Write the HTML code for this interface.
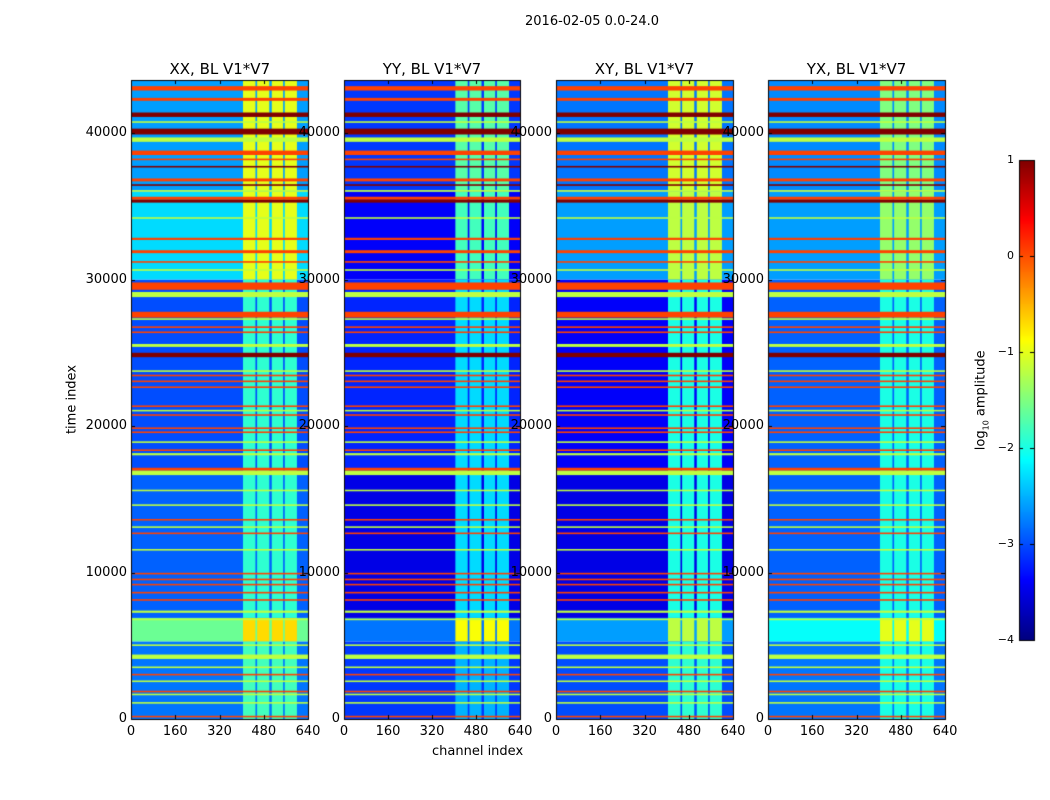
<!DOCTYPE html>
<html><head><meta charset="utf-8"><style>
body{margin:0;background:#fff;width:1050px;height:800px;position:relative;overflow:hidden;font-family:"DejaVu Sans","Liberation Sans",sans-serif;color:#000}
.t{position:absolute;font-size:13px;white-space:nowrap}
canvas{position:absolute}
</style></head><body>
<div class="t" style="left:525px;top:14px">2016-02-05 0.0-24.0</div>
<canvas id="cv" width="1050" height="800" style="left:0;top:0"></canvas>
<div class="t" style="left:22px;top:392px;transform:rotate(-90deg);transform-origin:50% 50%;width:100px;text-align:center">time index</div>
<div class="t" style="left:432px;top:744px">channel index</div>
<div class="t" style="left:932px;top:392px;transform:rotate(-90deg);width:100px;text-align:center">log<sub style="font-size:8px">10</sub> amplitude</div>
<div id="labels"></div>
<script>
const panelTitles=["XX, BL V1*V7","YY, BL V1*V7","XY, BL V1*V7","YX, BL V1*V7"];
const panelX=[131,344,556,768];
const panelW=[177,176,177,177];
const plotTop=80, plotBottom=719, tMax=43620, chMax=640;
const yTicks=[0,10000,20000,30000,40000];
const xTicks=[0,160,320,480,640];
const cbTicks=[1,0,-1,-2,-3,-4];
const cbMin=-4, cbMax=1;
// bright channel bands [start,end]
const channelBands=[[405,450],[456,500],[509,550],[556,600]];
// time segments: [tStart,tEnd,baseLevel,bandLevel] per panel
const xxSegments=[[0,5300,-2.8,-1.8],[5300,6900,-1.6,-0.7],[6900,17000,-2.9,-1.9],[17000,30000,-3.0,-1.9],[30000,36000,-2.3,-1.0],[36000,43620,-2.6,-1.0]];
const yySegments=[[0,5300,-3.1,-2.5],[5300,6900,-2.8,-0.9],[6900,17000,-3.5,-2.3],[17000,30000,-3.2,-2.3],[30000,36000,-3.4,-1.8],[36000,43620,-3.1,-1.7]];
const xySegments=[[0,5300,-3.0,-1.9],[5300,6900,-2.6,-1.2],[6900,17000,-3.5,-2.0],[17000,30000,-3.4,-2.0],[30000,36000,-2.6,-1.2],[36000,43620,-2.8,-1.1]];
const yxSegments=[[0,5300,-2.8,-2.0],[5300,6900,-2.1,-1.0],[6900,17000,-2.9,-2.0],[17000,30000,-2.9,-2.0],[30000,36000,-2.6,-1.4],[36000,43620,-2.7,-1.5]];
const panelSegments=[xxSegments,yySegments,xySegments,yxSegments];
// flagged time ranges: [tStart,tEnd,level]
const flagBands=[[42900,43200,0.05],[42200,42400,0.05],[41100,41400,1],[40700,40800,-1.2],[39900,40300,1],[39400,39700,-1.2],[38500,38800,0.05],[38150,38250,0.05],[37650,37750,1],[36700,36900,0.05],[36400,36500,1],[36000,36100,-1.2],[35450,35650,0.05],[35250,35450,1],[34150,34250,-1.2],[32700,32850,0.05],[31800,32000,0.05],[31150,31250,0.05],[30600,30700,-1.2],[29300,29800,0.05],[28800,29150,-1.2],[27400,27800,0.05],[27250,27350,-1.2],[26700,26800,0.05],[26350,26450,0.05],[25400,25600,-1.2],[24700,25000,1],[23700,23800,-1.2],[23400,23500,0.05],[23000,23100,0.05],[22600,22700,0.05],[21300,21400,0.05],[21000,21100,-1.2],[20700,20800,0.05],[19800,19900,0.05],[19550,19600,0.05],[18850,18950,-1.2],[18300,18400,0.05],[18000,18150,-1.2],[16950,17150,0.05],[16650,16950,-1.2],[15550,15650,-1.2],[14550,14650,-1.2],[13550,13650,0.05],[13050,13150,-1.2],[12650,12700,0.05],[11500,11600,-1.2],[9900,9950,0.05],[9500,9550,0.05],[9150,9200,0.05],[8600,8650,0.05],[8100,8150,0.05],[7250,7400,-1.2],[6750,6850,-1.2],[5000,5080,-1.2],[4100,4400,-1.2],[3500,3560,-1.2],[3000,3060,0.05],[2550,2600,-1.2],[1850,1900,0.05],[1650,1700,-1.2],[1050,1150,-1.2],[130,200,0.05]];

function jet(v){
  let x=(v-cbMin)/(cbMax-cbMin); x=Math.max(0,Math.min(1,x));
  const f=(a)=>Math.max(0,Math.min(1,1.5-Math.abs(4*x-a)));
  return 'rgb('+Math.round(255*f(3))+','+Math.round(255*f(2))+','+Math.round(255*f(1))+')';
}
const cv=document.getElementById('cv'),ctx=cv.getContext('2d');
const H=plotBottom-plotTop;
function yOf(t){return plotBottom-t/tMax*H;}
const lab=document.getElementById('labels');
function addLabel(txt,x,y,align,name,size){
  const d=document.createElement('div');
  d.className='t';d.textContent=txt;
  
  
  if(size)d.style.fontSize=size+'px';
  d.style.top=(y-8)+'px';
  if(align==='right'){d.style.right=(1050-x)+'px';}
  else if(align==='center'){d.style.left=(x-50)+'px';d.style.width='100px';d.style.textAlign='center';}
  else d.style.left=x+'px';
  lab.appendChild(d);
}
panelSegments.forEach((segs,p)=>{
  const x0=panelX[p],w=panelW[p];
  const xOf=(c)=>x0+c/chMax*w;
  // base segments
  segs.forEach(s=>{
    const ya=yOf(s[1]),yb=yOf(s[0]);
    ctx.fillStyle=jet(s[2]);ctx.fillRect(x0,ya,w,yb-ya);
    ctx.fillStyle=jet(s[3]);
    channelBands.forEach(b=>{ctx.fillRect(xOf(b[0]),ya,xOf(b[1])-xOf(b[0]),yb-ya);});
  });
  // flagged rows
  flagBands.forEach(f=>{
    const ya=yOf(f[1]),yb=yOf(f[0]);
    const h=Math.max(1.6,yb-ya);
    ctx.fillStyle=jet(f[2]);ctx.fillRect(x0,(ya+yb)/2-h/2,w,h);
  });
  ctx.strokeStyle='#000';ctx.lineWidth=1;
  ctx.strokeRect(x0+0.5,plotTop+0.5,w,H);
  yTicks.forEach(t=>{const y=Math.round(yOf(t))+0.5;ctx.beginPath();ctx.moveTo(x0,y);ctx.lineTo(x0+4,y);ctx.moveTo(x0+w,y);ctx.lineTo(x0+w-4,y);ctx.stroke();
    addLabel(String(t),x0-4,yOf(t),'right','y-tick-label');});
  xTicks.forEach(c=>{const x=Math.round(xOf(c))+0.5;ctx.beginPath();ctx.moveTo(x,plotBottom);ctx.lineTo(x,plotBottom-4);ctx.moveTo(x,plotTop);ctx.lineTo(x,plotTop+4);ctx.stroke();
    addLabel(String(c),xOf(c),plotBottom+13,'center','x-tick-label');});
  addLabel(panelTitles[p],x0+w/2,plotTop-12,'center','panel-title',15);
});
// colorbar
const cbX=1019,cbW=15,cbTop=160,cbBot=640;
for(let y=cbTop;y<cbBot;y++){const v=cbMax-(y-cbTop+0.5)/(cbBot-cbTop)*(cbMax-cbMin);ctx.fillStyle=jet(v);ctx.fillRect(cbX,y,cbW,1);}
ctx.strokeRect(cbX+0.5,cbTop+0.5,cbW,cbBot-cbTop);
cbTicks.forEach(v=>{const y=Math.round(cbBot-(v-cbMin)/(cbMax-cbMin)*(cbBot-cbTop))+0.5;
  ctx.beginPath();ctx.moveTo(cbX,y);ctx.lineTo(cbX+4,y);ctx.moveTo(cbX+cbW,y);ctx.lineTo(cbX+cbW-4,y);ctx.stroke();
  addLabel(v<0?'\u2212'+(-v):String(v),1014,y,'right','colorbar-tick-label',11);});
</script>
</body></html>
